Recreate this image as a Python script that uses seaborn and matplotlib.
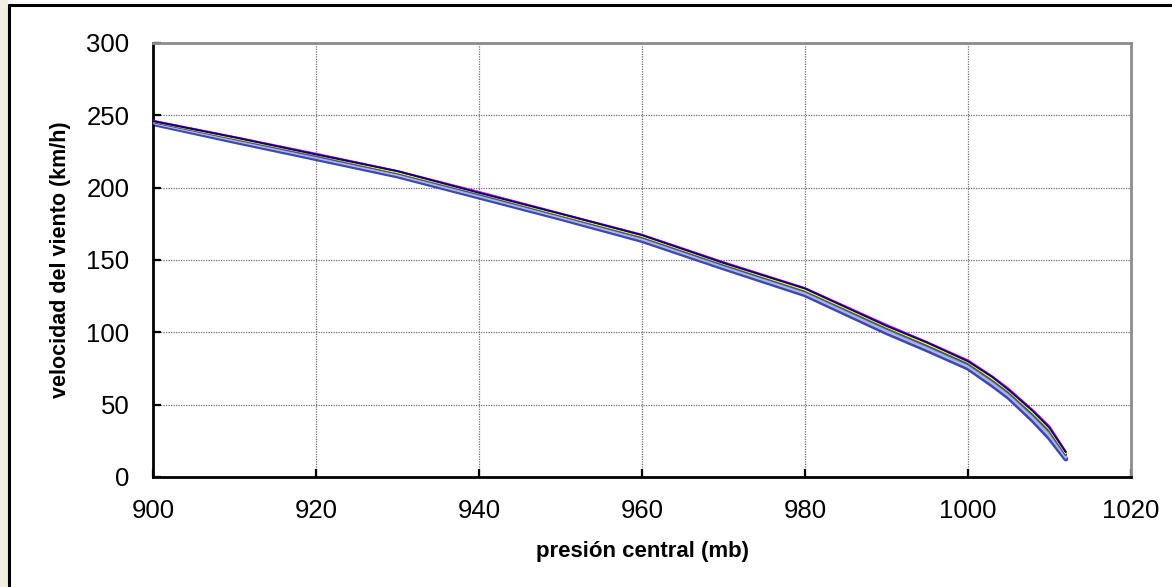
import numpy as np
import pandas as pd
import matplotlib
matplotlib.use("Agg")
import matplotlib.pyplot as plt
from matplotlib.patches import Rectangle
from matplotlib.lines import Line2D
import seaborn as sns

# ---------------- data ----------------
pressure = [900, 910, 920, 930, 940, 950, 960, 970, 980, 990, 995, 1000, 1003, 1005, 1008, 1010, 1012]

s_navy      = [246.0, 234.8, 223.0, 211.4, 196.5, 182.0, 167.2, 148.0, 130.3, 104.5, 92.9, 80.0, 69.1, 60.2, 45.4, 34.0, 17.2]
s_magenta   = [246.3, 235.0, 223.5, 211.5, 197.1, 182.2, 167.5, 148.5, 130.6, 105.2, 93.2, 80.7, 69.5, 61.0, 46.0, 35.0, 17.5]
s_yellow    = [245.8, 234.2, 222.7, 210.6, 196.2, 181.3, 166.5, 147.5, 129.4, 103.8, 91.9, 79.4, 68.0, 59.5, 44.3, 33.0, 16.3]
s_cyan      = [246.2, 234.9, 223.3, 211.4, 196.9, 182.0, 167.3, 148.3, 130.4, 105.0, 93.0, 80.4, 69.2, 60.6, 45.6, 34.5, 17.3]
s_purple    = [245.7, 234.1, 222.5, 210.5, 196.0, 181.2, 166.3, 147.3, 129.2, 103.6, 91.6, 79.1, 67.7, 59.2, 43.9, 32.6, 16.0]
s_darkred   = [245.9, 234.4, 222.8, 210.8, 196.4, 181.5, 166.7, 147.7, 129.7, 104.1, 92.1, 79.6, 68.3, 59.8, 44.6, 33.4, 16.5]
s_teal      = [245.3, 233.5, 221.8, 209.8, 195.3, 180.5, 165.5, 146.5, 128.3, 102.5, 90.5, 78.0, 66.5, 58.0, 42.5, 31.0, 15.0]
s_blue      = [245.5, 233.8, 222.1, 210.1, 195.7, 180.8, 165.9, 146.9, 128.8, 103.0, 91.0, 78.5, 67.1, 58.6, 43.2, 31.8, 15.5]
s_black     = [245.6, 234.0, 222.3, 210.3, 195.8, 181.0, 166.1, 147.1, 129.0, 103.3, 91.3, 78.8, 67.4, 58.9, 43.6, 32.2, 15.8]
s_lavender  = [244.8, 232.8, 220.9, 209.0, 194.4, 179.7, 164.5, 145.5, 127.2, 101.1, 89.2, 76.7, 65.0, 56.5, 40.8, 29.0, 13.8]
s_peach     = [244.9, 232.9, 221.1, 209.1, 194.6, 179.8, 164.7, 145.7, 127.4, 101.4, 89.4, 76.9, 65.3, 56.8, 41.1, 29.4, 14.0]
s_lightblue = [244.6, 232.5, 220.6, 208.6, 194.0, 179.3, 164.1, 145.1, 126.7, 100.6, 88.6, 76.1, 64.4, 55.9, 40.1, 28.2, 13.3]
s_bottom    = [244.3, 232.0, 220.1, 208.1, 193.5, 178.8, 163.5, 144.5, 126.0, 99.8, 87.8, 75.3, 63.5, 55.0, 39.0, 27.0, 12.5]

x_ticks = [900, 920, 940, 960, 980, 1000, 1020]
y_ticks = [0, 50, 100, 150, 200, 250, 300]
x_label = "presión central (mb)"
y_label = "velocidad del viento (km/h)"

series = {
    "s13": s_bottom, "s12": s_lightblue, "s11": s_peach, "s10": s_lavender,
    "s9": s_black, "s8": s_blue, "s7": s_teal, "s6": s_darkred, "s5": s_purple,
    "s4": s_cyan, "s3": s_yellow, "s2": s_magenta, "s1": s_navy,
}
colors = {
    "s13": "#3F4AA8", "s12": "#99CCFF", "s11": "#FFCC99", "s10": "#CC99FF",
    "s9": "#000000", "s8": "#0000FF", "s7": "#008080", "s6": "#800000", "s5": "#800080",
    "s4": "#00FFFF", "s3": "#FFFF00", "s2": "#FF00FF", "s1": "#000080",
}

df = pd.concat([pd.DataFrame({"p": pressure, "v": vals, "serie": name})
                for name, vals in series.items()], ignore_index=True)

# ---------------- figure ----------------
sns.set_theme(style="white")
plt.rcParams["font.family"] = ["Liberation Sans", "DejaVu Sans"]

fig = plt.figure(figsize=(11.72, 5.87), dpi=100)
W, H = 1172, 587
ax = fig.add_axes([153 / W, 1 - 477 / H, (1131 - 153) / W, (477 - 43) / H])

# background decoration: beige strip + black frame
fig.patches.append(Rectangle((0, 0), 8 / W, 1, transform=fig.transFigure,
                             facecolor="#F2EEE2", edgecolor="none", zorder=0))
fig.lines.append(Line2D([8.5 / W, 8.5 / W], [0, 1 - 5 / H], transform=fig.transFigure,
                        color="black", lw=2.2))
fig.lines.append(Line2D([8.5 / W, 1], [1 - 5 / H, 1 - 5 / H], transform=fig.transFigure,
                        color="black", lw=2.2))

thick = df[df["serie"] == "s13"]
thin = df[df["serie"] != "s13"]
sns.lineplot(data=thick, x="p", y="v", hue="serie", palette=colors, lw=3.6,
             legend=False, ax=ax, estimator=None, sort=False, zorder=2)
sns.lineplot(data=thin, x="p", y="v", hue="serie", palette=colors, lw=1.4,
             legend=False, ax=ax, estimator=None, sort=False, zorder=3)

ax.set_xlim(900, 1020)
ax.set_ylim(0, 300)
ax.set_xticks(x_ticks)
ax.set_yticks(y_ticks)
ax.set_xticklabels([str(t) for t in x_ticks])
ax.set_yticklabels([str(t) for t in y_ticks])

ax.grid(True, color="#707070", linestyle=(0, (1, 1)), linewidth=0.9)
ax.set_axisbelow(True)

for side in ["left", "bottom"]:
    ax.spines[side].set_color("black")
    ax.spines[side].set_linewidth(2.0)
for side in ["top", "right"]:
    ax.spines[side].set_color("#8C8C8C")
    ax.spines[side].set_linewidth(2.0)
    ax.spines[side].set_visible(True)

ax.tick_params(axis="both", direction="in", length=6, width=1.6, color="black",
               labelsize=18.5, labelcolor="black")
ax.tick_params(axis="y", pad=17, left=True)
ax.tick_params(axis="x", pad=16, bottom=True)

ax.set_xlabel(x_label, fontsize=16, fontweight="bold", labelpad=13, color="black")
ax.set_ylabel(y_label, fontsize=15.5, fontweight="bold", labelpad=11, color="black")

fig.savefig("out.png", dpi=100, facecolor="white")
